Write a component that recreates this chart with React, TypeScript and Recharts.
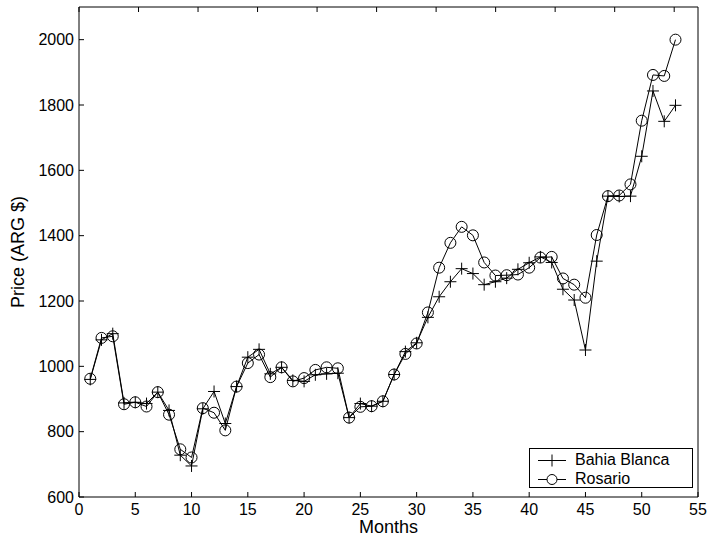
import { LineChart, Line, XAxis, YAxis, Legend } from "recharts";

const months = [
  1, 2, 3, 4, 5, 6, 7, 8, 9, 10, 11, 12, 13, 14, 15, 16, 17, 18, 19, 20, 21, 22, 23, 24, 25, 26, 27,
  28, 29, 30, 31, 32, 33, 34, 35, 36, 37, 38, 39, 40, 41, 42, 43, 44, 45, 46, 47, 48, 49, 50, 51, 52, 53,
];

const bahiaBlanca = [
  960, 1081, 1100, 888, 890, 886, 921, 865, 728, 695, 870, 923, 825, 938, 1028, 1052, 977, 997, 957,
  954, 974, 977, 979, 843, 886, 878, 893, 975, 1045, 1072, 1150, 1213, 1259, 1299, 1284, 1250, 1259,
  1270, 1297, 1317, 1335, 1318, 1236, 1203, 1050, 1322, 1521, 1520, 1521, 1643, 1843, 1750, 1799,
];

const rosario = [
  962, 1087, 1092, 884, 890, 877, 921, 852, 746, 721, 872, 858, 804, 938, 1010, 1036, 967, 997, 954,
  964, 989, 997, 994, 843, 876, 878, 893, 975, 1038, 1070, 1165, 1302, 1378, 1427, 1401, 1318, 1278,
  1279, 1281, 1302, 1333, 1335, 1269, 1250, 1210, 1402, 1521, 1523, 1557, 1752, 1892, 1889, 2000,
];

const xTicks = [0, 5, 10, 15, 20, 25, 30, 35, 40, 45, 50, 55];
const yTicks = [600, 800, 1000, 1200, 1400, 1600, 1800, 2000];

const data = months.map((m, i) => ({ month: m, bahia: bahiaBlanca[i], rosario: rosario[i] }));

const FONT = "'Liberation Sans', Arial, Helvetica, sans-serif";
const tickStyle = { fill: "#000", fontSize: 16, fontFamily: FONT };

// inward tick marks for the top and right frame
// eslint-disable-next-line @typescript-eslint/no-explicit-any
function TopTick({ x, y, index }: any) {
  return <line key={`tt-${index}`} x1={x} x2={x} y1={y} y2={y + 5} stroke="#000" />;
}

// eslint-disable-next-line @typescript-eslint/no-explicit-any
function RightTick({ x, y, index }: any) {
  return <line key={`rt-${index}`} x1={x} x2={x - 5} y1={y} y2={y} stroke="#000" />;
}

// eslint-disable-next-line @typescript-eslint/no-explicit-any
function PlusDot({ cx, cy, index }: any) {
  if (cx == null || cy == null) return null;
  return (
    <path
      key={`p-${index}`}
      d={`M${cx - 6},${cy}h12M${cx},${cy - 6}v12`}
      stroke="#000"
      strokeWidth={1}
      fill="none"
    />
  );
}

// eslint-disable-next-line @typescript-eslint/no-explicit-any
function CircleDot({ cx, cy, index }: any) {
  if (cx == null || cy == null) return null;
  return <circle key={`c-${index}`} cx={cx} cy={cy} r={5.5} stroke="#000" strokeWidth={1} fill="none" />;
}

function LegendBox() {
  return (
    <div
      style={{
        width: 164,
        height: 40,
        boxSizing: "border-box",
        border: "1px solid #000",
        background: "#fff",
        position: "relative",
        fontFamily: FONT,
        fontSize: 16,
        color: "#000",
      }}
    >
      <svg width={40} height={40} style={{ position: "absolute", left: 0, top: 0 }}>
        <path d="M8,11.5h28M22,5.5v12" stroke="#000" fill="none" />
        <path d="M8,30.5h28" stroke="#000" fill="none" />
        <circle cx={22} cy={30.5} r={5} stroke="#000" fill="#fff" />
      </svg>
      <div style={{ position: "absolute", left: 45, top: 1, lineHeight: "20px" }}>Bahia Blanca</div>
      <div style={{ position: "absolute", left: 45, top: 20, lineHeight: "20px" }}>Rosario</div>
    </div>
  );
}

export default function App() {
  return (
    <div style={{ position: "absolute", left: 0, top: 0, background: "#fff" }}>
      <LineChart width={712} height={537} data={data} margin={{ top: 6, right: 13, left: 0, bottom: 0 }}>
        <XAxis
          dataKey="month"
          type="number"
          domain={[0, 55]}
          ticks={xTicks}
          interval={0}
          tick={tickStyle}
          tickSize={-5}
          tickMargin={12}
          stroke="#000"
          height={40}
          label={{ value: "Months", position: "insideBottom", offset: 4, fill: "#000", fontSize: 18, fontFamily: FONT }}
        />
        <XAxis
          xAxisId="top"
          orientation="top"
          type="number"
          domain={[0, 55]}
          ticks={xTicks}
          interval={0}
          tick={<TopTick />}
          tickLine={false}
          tickSize={0}
          tickMargin={0}
          stroke="#000"
          height={1}
        />
        <YAxis
          type="number"
          domain={[600, 2100]}
          ticks={yTicks}
          interval={0}
          tick={tickStyle}
          tickSize={-5}
          tickMargin={10}
          stroke="#000"
          width={79}
          label={{
            value: "Price (ARG $)",
            angle: -90,
            position: "insideLeft",
            offset: 18,
            fill: "#000",
            fontSize: 18,
            fontFamily: FONT,
            style: { textAnchor: "middle" },
          }}
        />
        <YAxis
          yAxisId="right"
          orientation="right"
          type="number"
          domain={[600, 2100]}
          ticks={yTicks}
          interval={0}
          tick={<RightTick />}
          tickLine={false}
          tickSize={0}
          tickMargin={0}
          stroke="#000"
          width={1}
        />
        <Legend
          layout="horizontal"
          verticalAlign="middle"
          content={<LegendBox />}
          wrapperStyle={{ position: "absolute", left: 529, top: 448, width: 164, height: 40 }}
        />
        <Line
          dataKey="bahia"
          name="Bahia Blanca"
          stroke="#000"
          strokeWidth={1}
          dot={<PlusDot />}
          activeDot={false}
          isAnimationActive={false}
        />
        <Line
          dataKey="rosario"
          name="Rosario"
          stroke="#000"
          strokeWidth={1}
          dot={<CircleDot />}
          activeDot={false}
          isAnimationActive={false}
        />
      </LineChart>
    </div>
  );
}
